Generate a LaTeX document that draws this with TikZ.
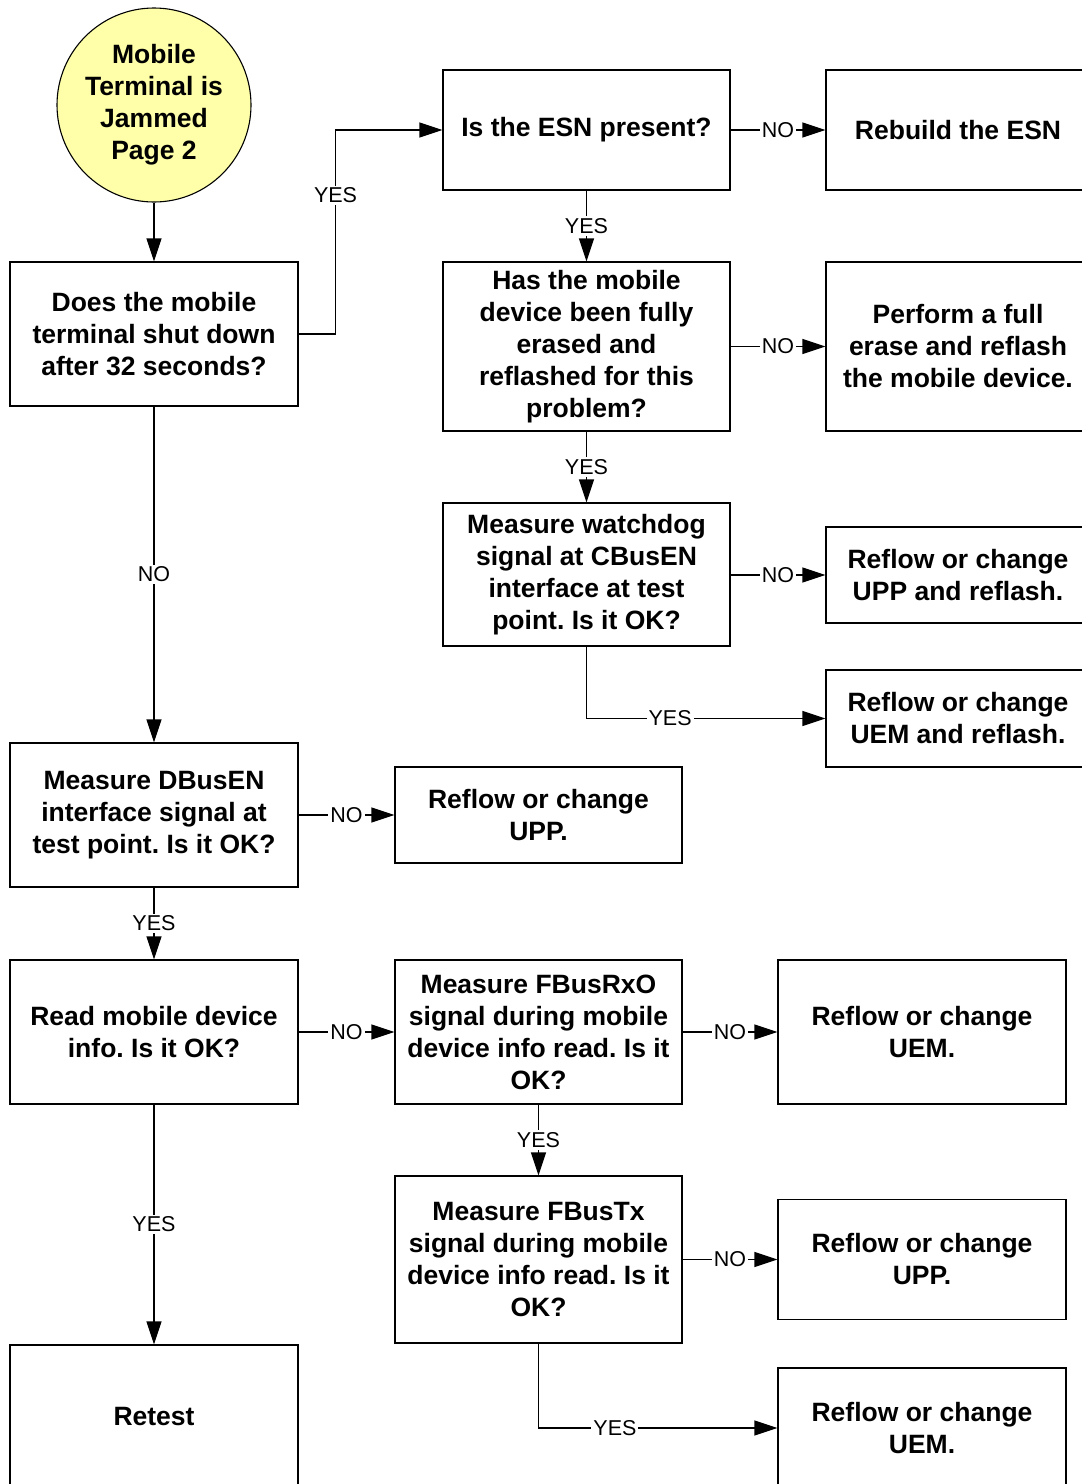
\documentclass[tikz,border=0pt]{standalone}
\usepackage{fontspec}
\setmainfont{Liberation Sans}
\usetikzlibrary{arrows.meta}
\definecolor{startfill}{RGB}{255,255,170}
\frenchspacing
\begin{document}
\begin{tikzpicture}[x=1pt,y=-1pt,
  box/.style={draw=black, line width=1.1pt, rectangle, align=center, inner sep=0pt,
    font=\bfseries\fontsize{26.5}{32}\selectfont},
  startnode/.style={draw=black, line width=1.1pt, circle, fill=startfill, align=center,
    minimum size=194pt, inner sep=0pt, font=\bfseries\fontsize{26.5}{32}\selectfont},
  arr/.style={draw=black, line width=1.1pt, -{Triangle[length=23pt,width=15pt]}},
  lbl/.style={fill=white, inner sep=2pt, font=\fontsize{21.5}{24}\selectfont}]
\useasboundingbox (0,0) rectangle (1082,1484);
\clip (0,0) rectangle (1082,1484);
\fill[white] (0,0) rectangle (1082,1484);

% start
\node[startnode] (start) at (154,105) {\raisebox{-3pt}{\begin{tabular}{@{}c@{}}Mobile\\Terminal is\\Jammed\\Page 2\end{tabular}}};

% left column
\node[box, minimum width=288, minimum height=144] (q1) at (154,334)
  {Does the mobile\\terminal shut down\\after 32 seconds?};
\node[box, minimum width=288, minimum height=144] (dbus) at (154,815)
  {Measure DBusEN\\interface signal at\\test point. Is it OK?};
\node[box, minimum width=288, minimum height=144] (read) at (154,1032)
  {Read mobile device\\info. Is it OK?};
\node[box, minimum width=288, minimum height=142] (retest) at (154,1416) {Retest};

% middle column
\node[box, minimum width=287, minimum height=120] (esn) at (586.5,130) {Is the ESN present?};
\node[box, minimum width=287, minimum height=169] (has) at (586.5,346.5)
  {Has the mobile\\device been fully\\erased and\\reflashed for this\\problem?};
\node[box, minimum width=287, minimum height=143] (watch) at (586.5,574.5)
  {Measure watchdog\\signal at CBusEN\\interface at test\\point. Is it OK?};
\node[box, minimum width=287, minimum height=96] (upp1) at (538.5,815)
  {Reflow or change\\UPP.};
\node[box, minimum width=287, minimum height=144] (rxo) at (538.5,1032)
  {Measure FBusRxO\\signal during mobile\\device info read. Is it\\OK?};
\node[box, minimum width=287, minimum height=167] (tx) at (538.5,1259.5)
  {Measure FBusTx\\signal during mobile\\device info read. Is it\\OK?};

% right column, upper part
\node[box, minimum width=264, minimum height=120] (rebuild) at (958,130) {Rebuild the ESN};
\node[box, minimum width=264, minimum height=169] (perform) at (958,346.5)
  {Perform a full\\erase and reflash\\the mobile device.};
\node[box, minimum width=264, minimum height=96] (uppre) at (958,575)
  {Reflow or change\\UPP and reflash.};
\node[box, minimum width=264, minimum height=97] (uemre) at (958,718.5)
  {Reflow or change\\UEM and reflash.};

% right column, lower part
\node[box, minimum width=288, minimum height=144] (uem1) at (922,1032)
  {Reflow or change\\UEM.};
\node[box, minimum width=288, minimum height=120] (upp2) at (922,1259.5)
  {Reflow or change\\UPP.};
\node[box, minimum width=288, minimum height=120] (uem2) at (922,1428)
  {Reflow or change\\UEM.};

% connectors
\draw[arr] (start.south) -- (start.south |- q1.north);
\draw[arr] (q1.east) -- ++(37,0) |- node[lbl, pos=0.34] {YES} (esn.west);
\draw[arr] (q1) -- node[lbl] {NO} (dbus);
\draw[arr] (esn) -- node[lbl] {NO} (rebuild);
\draw[arr] (esn) -- node[lbl] {YES} (has);
\draw[arr] (has) -- node[lbl] {NO} (perform);
\draw[arr] (has) -- node[lbl] {YES} (watch);
\draw[arr] (watch.east |- uppre.west) -- node[lbl] {NO} (uppre.west);
\draw[arr] (watch.south) |- node[lbl, pos=0.675] {YES} (uemre.west);
\draw[arr] (dbus) -- node[lbl] {NO} (upp1);
\draw[arr] (dbus) -- node[lbl] {YES} (read);
\draw[arr] (read) -- node[lbl] {NO} (rxo);
\draw[arr] (read) -- node[lbl] {YES} (retest);
\draw[arr] (rxo) -- node[lbl] {NO} (uem1);
\draw[arr] (rxo) -- node[lbl] {YES} (tx);
\draw[arr] (tx) -- node[lbl] {NO} (upp2);
\draw[arr] (tx.south) |- node[lbl, pos=0.66] {YES} (uem2.west);
\end{tikzpicture}
\end{document}
